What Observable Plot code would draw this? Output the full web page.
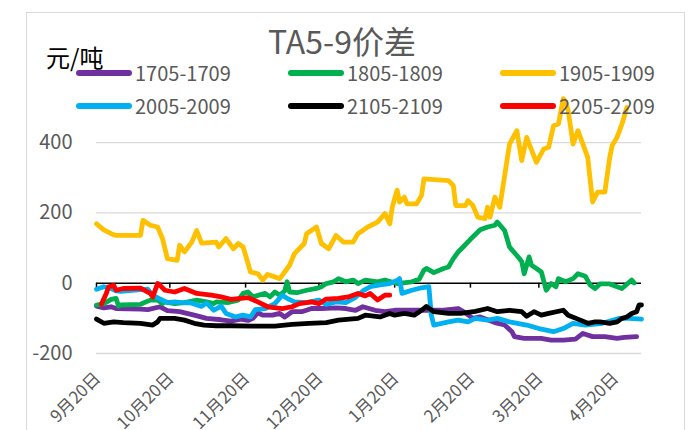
<!DOCTYPE html>
<html><head><meta charset="utf-8">
<script src="https://cdn.jsdelivr.net/npm/d3@7"></script>
<script src="https://cdn.jsdelivr.net/npm/@observablehq/plot@0.6"></script>
<style>
body{margin:0;background:#fff;}
#wrap{position:relative;width:691px;height:430px;overflow:hidden;font-family:"Noto Sans CJK SC","Noto Sans",sans-serif;}
#frame{position:absolute;left:26px;top:12px;width:659px;height:460px;border:1px solid #d9d9d9;box-sizing:border-box;}
#chart{position:absolute;left:0;top:0;}
#title{position:absolute;left:0;width:684px;top:24px;text-align:center;font-size:32px;line-height:32px;color:#595959;}
#unit{position:absolute;left:46px;top:43px;font-size:24px;line-height:28px;color:#000;}
.leg{position:absolute;display:flex;align-items:center;font-size:20px;line-height:22px;color:#595959;height:22px;}
.leg .sw{display:inline-block;width:56px;height:6px;border-radius:3px;margin-right:3px;}
</style></head>
<body><div id="wrap"><div id="frame"></div><div id="chart"></div><div id="title"></div><div id="unit"></div><div id="legend"></div></div>
<script>
const titleText = "TA5-9价差";
const unitText = "元/吨";
const seriesNames = ["1705-1709","1805-1809","1905-1909","2005-2009","2105-2109","2205-2209"];
const seriesColors = ["#7030A0","#00B050","#FFC000","#00B0F0","#000000","#FF0000"];
const yTicks = [-200, 0, 200, 400];
const yGrid = [-200, 200, 400];
const xTickDates = ["09-20","10-20","11-20","12-20","01-20","02-20","03-20","04-20"];
const xTickLabels = ["9月20日","10月20日","11月20日","12月20日","1月20日","2月20日","3月20日","4月20日"];
const xDomain = ["09-20","05-01"];

const s1705 = [["09-20",-65],["09-23",-70],["09-26",-67],["09-28",-72],["10-08",-74],["10-11",-75],["10-16",-67],["10-19",-78],["10-24",-81],["10-30",-91],["11-04",-100],["11-10",-104],["11-14",-108],["11-18",-102],["11-21",-106],["11-23",-100],["11-25",-84],["11-27",-91],["12-01",-91],["12-04",-86],["12-06",-96],["12-09",-81],["12-13",-81],["12-17",-72],["12-21",-72],["12-27",-70],["12-31",-72],["01-04",-77],["01-07",-67],["01-12",-77],["01-16",-81],["01-20",-77],["01-27",-77],["02-02",-77],["02-08",-77],["02-15",-72],["02-17",-80],["02-21",-100],["02-24",-96],["03-02",-112],["03-06",-119],["03-09",-138],["03-10",-152],["03-14",-157],["03-21",-157],["03-25",-162],["03-30",-162],["04-04",-159],["04-07",-143],["04-11",-152],["04-16",-152],["04-21",-157],["04-24",-154],["04-29",-152]];

const s1805 = [["09-20",-62],["09-23",-58],["09-26",-46],["09-28",-43],["09-29",-65],["09-30",-62],["10-08",-60],["10-11",-51],["10-12",-48],["10-15",-48],["10-17",-58],["10-18",-53],["10-22",-58],["10-26",-55],["10-31",-48],["11-04",-53],["11-07",-58],["11-08",-53],["11-13",-55],["11-17",-48],["11-19",-29],["11-21",-25],["11-23",-39],["11-28",-29],["11-30",-39],["12-02",-25],["12-04",-34],["12-06",-22],["12-07",4],["12-08",-25],["12-11",-27],["12-15",-20],["12-19",-15],["12-21",-10],["12-23",-1],["12-26",4],["12-28",13],["12-31",4],["01-03",9],["01-05",-1],["01-08",9],["01-13",4],["01-16",9],["01-21",-1],["01-27",4],["01-30",11],["02-01",37],["02-02",42],["02-05",30],["02-09",42],["02-11",46],["02-13",70],["02-15",89],["02-17",103],["02-20",125],["02-24",152],["02-27",160],["03-02",165],["03-03",174],["03-06",150],["03-08",103],["03-11",79],["03-13",62],["03-14",27],["03-16",75],["03-17",51],["03-19",42],["03-21",32],["03-23",-20],["03-25",-1],["03-27",-10],["03-28",13],["03-31",4],["04-03",13],["04-05",27],["04-08",20],["04-10",-5],["04-12",-15],["04-14",-2],["04-18",-2],["04-23",-15],["04-27",9],["04-28",1]];

const s1905 = [["09-20",169],["09-23",152],["09-26",141],["09-28",136],["10-08",136],["10-09",179],["10-12",165],["10-15",160],["10-17",127],["10-19",70],["10-23",65],["10-24",108],["10-26",89],["10-29",117],["10-31",150],["11-02",114],["11-08",117],["11-09",103],["11-12",127],["11-15",98],["11-17",113],["11-19",103],["11-20",80],["11-22",32],["11-25",27],["11-27",9],["11-29",25],["12-02",18],["12-04",13],["12-06",32],["12-08",51],["12-10",84],["12-14",113],["12-15",141],["12-19",160],["12-21",113],["12-24",98],["12-27",136],["12-30",117],["01-03",117],["01-05",141],["01-09",160],["01-13",174],["01-16",198],["01-18",169],["01-19",216],["01-21",265],["01-22",231],["01-24",245],["01-25",226],["01-29",226],["01-31",250],["02-01",297],["02-11",292],["02-13",278],["02-14",221],["02-18",221],["02-19",235],["02-21",221],["02-23",188],["02-26",184],["02-27",216],["02-28",188],["03-02",245],["03-04",216],["03-08",396],["03-11",434],["03-13",349],["03-15",415],["03-19",344],["03-22",382],["03-24",387],["03-26",448],["03-28",453],["03-30",525],["03-31",515],["04-01",491],["04-03",396],["04-05",434],["04-09",358],["04-11",231],["04-13",259],["04-16",259],["04-18",358],["04-19",392],["04-21",415],["04-23",453],["04-25",500]];

const s2005 = [["09-20",-17],["09-23",-10],["09-26",-15],["09-28",-22],["09-30",-23],["10-08",-18],["10-11",-17],["10-13",-34],["10-16",-45],["10-19",-55],["10-22",-53],["10-26",-56],["10-28",-55],["11-02",-66],["11-04",-56],["11-07",-77],["11-10",-65],["11-12",-86],["11-16",-96],["11-19",-91],["11-22",-96],["11-24",-75],["11-28",-72],["12-02",-58],["12-05",-34],["12-07",-43],["12-10",-53],["12-15",-55],["12-20",-48],["12-23",-60],["12-27",-53],["12-31",-55],["01-04",-40],["01-07",-22],["01-10",-10],["01-14",-5],["01-18",-1],["01-21",8],["01-22",13],["01-23",-29],["01-27",-20],["01-31",-13],["02-03",-10],["02-04",-91],["02-05",-119],["02-11",-110],["02-15",-105],["02-19",-110],["02-22",-100],["02-27",-105],["03-03",-100],["03-08",-110],["03-15",-119],["03-20",-129],["03-26",-138],["03-30",-129],["04-03",-114],["04-08",-119],["04-15",-114],["04-22",-100],["04-26",-100],["05-01",-102]];

const s2105 = [["09-20",-102],["09-23",-114],["09-27",-110],["10-01",-112],["10-08",-114],["10-13",-119],["10-15",-110],["10-16",-100],["10-22",-100],["10-26",-105],["10-30",-114],["11-03",-119],["11-08",-121],["11-14",-121],["11-23",-122],["12-02",-122],["12-09",-117],["12-16",-114],["12-23",-112],["12-28",-105],["01-05",-100],["01-08",-91],["01-14",-96],["01-18",-86],["01-20",-91],["01-24",-86],["01-28",-91],["01-31",-77],["02-02",-66],["02-05",-81],["02-11",-86],["02-16",-86],["02-22",-80],["02-27",-72],["03-03",-81],["03-08",-77],["03-13",-81],["03-15",-94],["03-18",-81],["03-21",-91],["03-24",-86],["03-30",-77],["04-01",-91],["04-06",-105],["04-09",-114],["04-12",-110],["04-14",-110],["04-18",-114],["04-21",-110],["04-23",-100],["04-25",-96],["04-27",-86],["04-29",-81],["04-30",-62],["05-01",-62]];

const s2205 = [["09-22",-60],["09-24",-29],["09-25",-10],["09-27",-6],["09-28",-20],["10-01",-15],["10-08",-14],["10-12",-29],["10-13",-39],["10-15",-1],["10-16",-6],["10-18",-20],["10-22",-25],["10-26",-15],["10-31",-29],["11-06",-34],["11-10",-39],["11-14",-46],["11-21",-41],["11-25",-53],["11-29",-67],["12-05",-72],["12-09",-67],["12-12",-58],["12-17",-53],["12-20",-58],["12-23",-45],["12-28",-43],["01-01",-39],["01-05",-29],["01-08",-36],["01-10",-29],["01-13",-48],["01-16",-34],["01-18",-34]];

const seriesData = [s1705, s1805, s1905, s2005, s2105, s2205];

function toDate(md){const [m,d]=md.split("-").map(Number);return new Date(Date.UTC(m>=9?2021:2022,m-1,d));}
const tickDates = xTickDates.map(toDate);
const font = '"Noto Sans CJK SC","Noto Sans",sans-serif';

const lineMarks = seriesData.map((arr,i)=>Plot.line(arr.map(([md,v])=>({date:toDate(md),value:v,series:seriesNames[i]})),{
  x:"date", y:"value", stroke:seriesColors[i], strokeWidth:4.8, strokeLinejoin:"round", strokeLinecap:"round", curve:"linear"
}));

const chart = Plot.plot({
  width:691, height:430,
  marginLeft:96, marginRight:50, marginTop:107, marginBottom:77,
  x:{type:"utc", domain:xDomain.map(toDate), axis:null},
  y:{domain:[-200,500], axis:null},
  style:{fontFamily:font, background:"transparent", overflow:"visible"},
  marks:[
    Plot.ruleY(yGrid,{stroke:"#d9d9d9", strokeWidth:1.3}),
    Plot.ruleY([0],{stroke:"#000", strokeWidth:1.5}),
    Plot.ruleX(tickDates,{x:d=>d, y1:()=>0, y2:()=>-14, stroke:"#000", strokeWidth:1.5}),
    ...lineMarks,
    Plot.text(yTicks,{y:d=>d, frameAnchor:"left", dx:-24, textAnchor:"end", text:d=>String(d), fontSize:20, fill:"#595959"}),
    Plot.text(tickDates,{x:d=>d, frameAnchor:"bottom", dx:5, dy:26, rotate:-45, textAnchor:"end", text:(d,i)=>xTickLabels[i], fontSize:17, fill:"#595959"})
  ]
});
document.getElementById("chart").appendChild(chart);
document.getElementById("title").textContent = titleText;
document.getElementById("unit").textContent = unitText;

const legCols = [76, 288, 500];
const legRows = [62, 95];
const legend = document.getElementById("legend");
seriesNames.forEach((name,i)=>{
  const el = document.createElement("div");
  el.className = "leg";
  el.style.left = legCols[i%3]+"px";
  el.style.top = legRows[Math.floor(i/3)]+"px";
  const sw = document.createElement("span");
  sw.className = "sw"; sw.style.background = seriesColors[i];
  const tx = document.createElement("span");
  tx.textContent = name;
  el.appendChild(sw); el.appendChild(tx);
  legend.appendChild(el);
});
</script></body></html>
